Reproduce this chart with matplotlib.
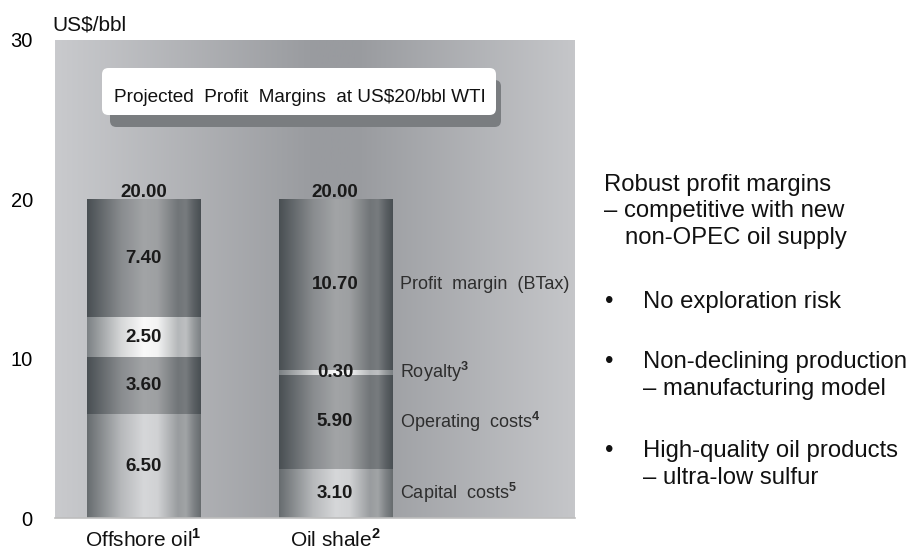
import numpy as np
import matplotlib
matplotlib.use('Agg')
import matplotlib.pyplot as plt
from matplotlib import transforms
from matplotlib.colors import to_rgb
from matplotlib.patches import FancyBboxPatch

# data (US$/bbl)
categories = ['Offshore oil', 'Oil shale']
category_notes = ['1', '2']
components = ['Capital  costs', 'Operating  costs', 'Royalty', 'Profit  margin  (BTax)']
component_notes = ['5', '4', '3', '']
capital_costs = [6.50, 3.10]
operating_costs = [3.60, 5.90]
royalty = [2.50, 0.30]
profit_margin = [7.40, 10.70]
yticks = [0, 10, 20, 30]

title = 'Projected  Profit  Margins  at US$20/bbl WTI'
unit_label = 'US$/bbl'

plt.rcParams['font.family'] = ['Liberation Sans', 'DejaVu Sans']
plt.rcParams['mathtext.fontset'] = 'custom'
plt.rcParams['mathtext.rm'] = 'Liberation Sans'
plt.rcParams['mathtext.bf'] = 'Liberation Sans:bold'

# shading per segment: (edge colour, centre colour)
styles = [('#676c6f', '#d6d7d9'),   # capital
          ('#494f53', '#a2a4a6'),   # operating
          ('#7c8184', '#f9f9f9'),   # royalty
          ('#494f53', '#a2a4a6')]   # profit


def cylinder(edge, centre, n=240):
    t = np.linspace(0, 1, n)
    knots = [0, 0.05, 0.3, 0.5, 0.62, 0.8, 0.87, 0.94, 1]
    shade = [0, 0.12, 0.72, 1, 0.95, 0.45, 0.52, 0.2, 0]
    p = np.interp(t, knots, shade)[:, None]
    e = np.array(to_rgb(edge))
    c = np.array(to_rgb(centre))
    return (e + (c - e) * p)[None, :, :]


fig = plt.figure(figsize=(9.12, 5.5), dpi=100)
ax = fig.add_axes([55 / 912, 32 / 550, 520 / 912, 478 / 550])

# background panel gradient
t = np.linspace(0, 1, 300)
bg = np.interp(t, [0, 0.5, 0.58, 1], [0, 1, 1, 0.08])[:, None]
c0 = np.array(to_rgb('#c9cacd'))
c1 = np.array(to_rgb('#999b9f'))
ax.imshow((c0 + (c1 - c0) * bg)[None, :, :], extent=(0, 1, 0, 1),
          transform=ax.transAxes, aspect='auto', zorder=0)

x = np.arange(len(categories))
width = 0.59
series = [capital_costs, operating_costs, royalty, profit_margin]
bottoms = np.zeros(len(categories))
for values, name, note, style in zip(series, components, component_notes, styles):
    values = np.array(values)
    bars = ax.bar(x, values, width, bottom=bottoms, color='none',
                  edgecolor='none', zorder=2)
    for rect, v in zip(bars, values):
        x0, y0 = rect.get_x(), rect.get_y()
        im = ax.imshow(cylinder(*style),
                       extent=(x0, x0 + rect.get_width(), y0, y0 + rect.get_height()),
                       aspect='auto', interpolation='bilinear', zorder=2)
        im.set_clip_path(rect)
        ax.text(x0 + rect.get_width() / 2, y0 + v / 2, f'{v:.2f}',
                ha='center', va='center', fontsize=13.5, fontweight='bold',
                color='#1a1a1a', zorder=4)
    label = name + (r'$^{\mathbf{%s}}$' % note if note else '')
    last = bars[-1]
    ax.annotate(label, xy=(last.get_x() + last.get_width(),
                           bottoms[-1] + values[-1] / 2),
                xytext=(6, 0), textcoords='offset points',
                ha='left', va='center', fontsize=13, color='#2e2e2e', zorder=4)
    bottoms += values

for xi, total in zip(x, bottoms):
    ax.annotate(f'{total:.2f}', xy=(xi, total), xytext=(0, 2),
                textcoords='offset points', ha='center', va='baseline',
                fontsize=13.5, fontweight='bold', color='#1a1a1a')

ax.set_xlim(-0.462, 2.253)
ax.set_ylim(0, 30)
ax.set_xticks([])
ax.set_yticks(yticks)
ax.tick_params(axis='y', length=0, pad=16, labelsize=14.5)
for s in ['top', 'left', 'right']:
    ax.spines[s].set_visible(False)
ax.spines['bottom'].set_color('#bdbdbd')
ax.spines['bottom'].set_linewidth(1.2)

trans = transforms.blended_transform_factory(ax.transData, fig.transFigure)
for xi, name, note in zip(x, categories, category_notes):
    ax.text(xi, 3 / 550, name + r'$^{\mathbf{%s}}$' % note, transform=trans,
            ha='center', va='baseline', fontsize=15, color='#111111')

fig.text(52 / 912, 1 - 30 / 550, unit_label, fontsize=15, color='#111111',
         va='baseline')

# title box with drop shadow (pixel geometry)
asp = 912 / 550
shadow = FancyBboxPatch((110 / 912, 1 - 127 / 550), 391 / 912, 47 / 550,
                        boxstyle='round,pad=0,rounding_size=0.007',
                        mutation_aspect=asp, transform=fig.transFigure,
                        fc='#7a7d80', ec='none', zorder=5)
box = FancyBboxPatch((102 / 912, 1 - 115 / 550), 394 / 912, 47 / 550,
                     boxstyle='round,pad=0,rounding_size=0.007',
                     mutation_aspect=asp, transform=fig.transFigure,
                     fc='white', ec='none', zorder=6)
fig.add_artist(shadow)
fig.add_artist(box)
fig.text(300 / 912, 1 - 102 / 550, title, ha='center', va='baseline',
         fontsize=13.7, color='#111111', zorder=7)

# right-hand commentary
fs = 17.2
fig.text(604 / 912, 1 - 191 / 550, 'Robust profit margins', fontsize=fs, color='#111111')
fig.text(604 / 912, 1 - 217 / 550, '– competitive with new', fontsize=fs, color='#111111')
fig.text(625 / 912, 1 - 244 / 550, 'non-OPEC oil supply', fontsize=fs, color='#111111')
points = [('No exploration risk', None, 308),
          ('Non-declining production', '– manufacturing model', 368),
          ('High-quality oil products', '– ultra-low sulfur', 457)]
for head, sub, base in points:
    fig.text(609 / 912, 1 - base / 550, '•', ha='center', fontsize=fs, color='#111111')
    fig.text(643 / 912, 1 - base / 550, head, fontsize=fs, color='#111111')
    if sub:
        fig.text(643 / 912, 1 - (base + 27) / 550, sub, fontsize=fs, color='#111111')

fig.savefig('out.png', dpi=100)
